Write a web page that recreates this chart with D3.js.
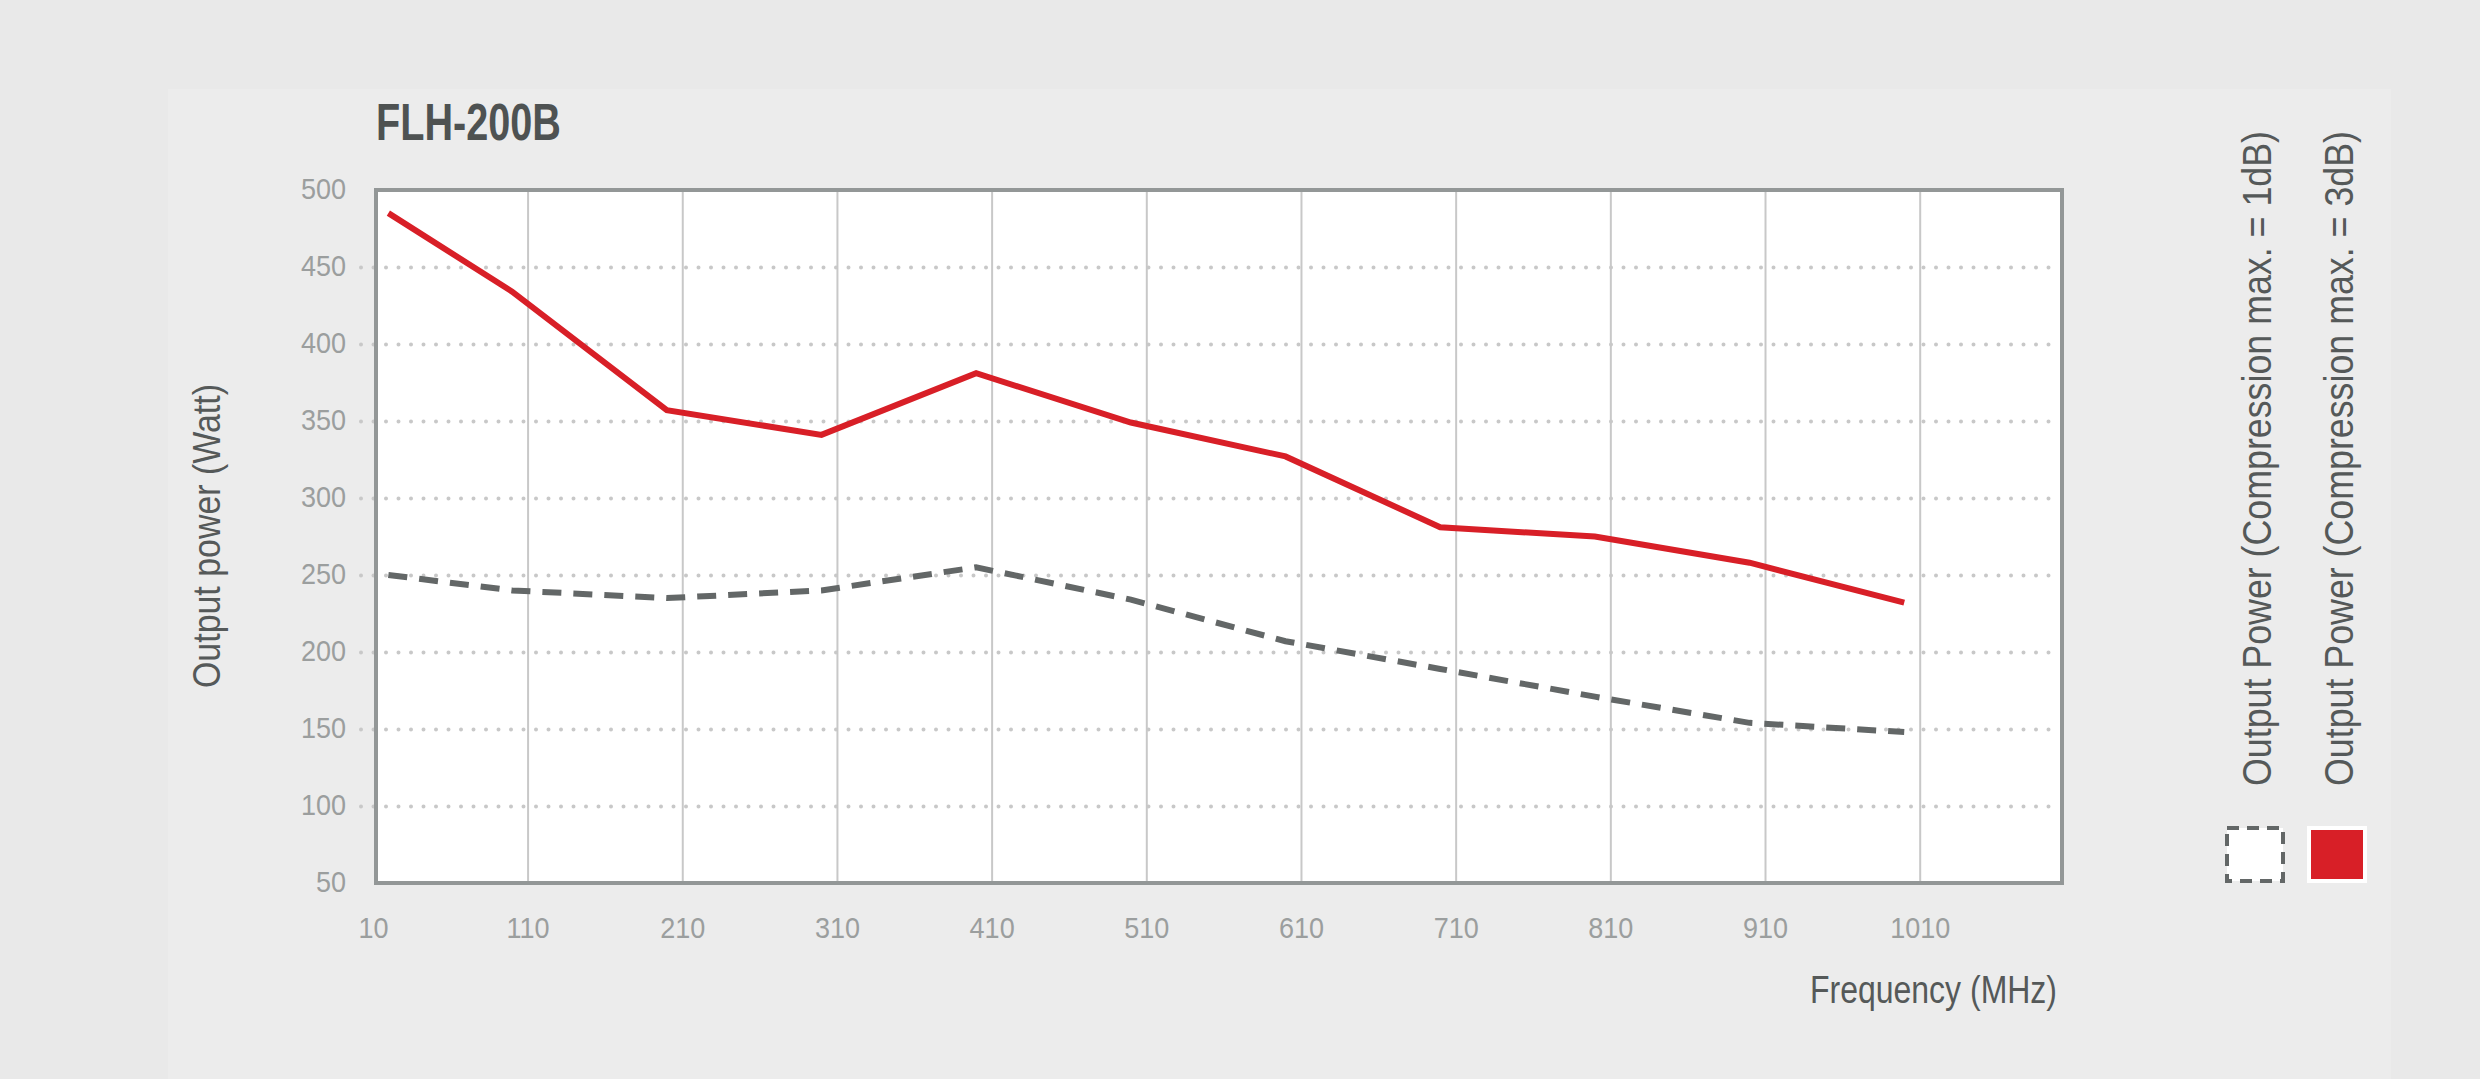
<!DOCTYPE html>
<html>
<head>
<meta charset="utf-8">
<script src="https://cdn.jsdelivr.net/npm/d3@7"></script>
<style>
  html, body { margin: 0; padding: 0; background: #e9e9e9; }
  svg text { font-family: 'Liberation Sans Narrow', 'Liberation Sans', Arial, sans-serif; }
</style>
</head>
<body>
<svg id="chart"></svg>
<script>
// data
const title = 'FLH-200B';
const freqs = [20, 100, 200, 300, 400, 500, 600, 700, 800, 900, 1000];
const power3dB = [485, 434, 357, 341, 381, 349, 327, 281, 275, 258, 232];
const power1dB = [250, 240, 235, 240, 255, 234, 207, 189, 171, 154, 148];
const xTicks = [10, 110, 210, 310, 410, 510, 610, 710, 810, 910, 1010];
const yTicks = [50, 100, 150, 200, 250, 300, 350, 400, 450, 500];
const legendLabels = [
  'Output Power (Compression max. = 1dB)',
  'Output Power (Compression max. = 3dB)'
];

const width = 2480,
  height = 1079;
const plot = { left: 376, right: 2062, top: 190, bottom: 883 };

const red = '#d81f27',
  grey = '#636767',
  frameCol = '#939797',
  gridCol = '#c8c8c8',
  tickCol = '#9b9e9e',
  textCol = '#555959';

const svg = d3
  .select('#chart')
  .attr('width', width)
  .attr('height', height);

// squeeze text to look like the condensed face of the original
function condense(sel, k) {
  sel.each(function() {
    const w = this.getComputedTextLength();
    d3.select(this)
      .attr('textLength', w * k)
      .attr('lengthAdjust', 'spacingAndGlyphs');
  });
}

svg
  .append('rect')
  .attr('width', width)
  .attr('height', height)
  .attr('fill', '#e9e9e9');
svg
  .append('rect')
  .attr('x', 168)
  .attr('y', 89)
  .attr('width', 2391 - 168)
  .attr('height', height - 89)
  .attr('fill', '#ececec');

const x = d3
  .scaleLinear()
  .domain([12, 1102])
  .range([plot.left, plot.right]);
const y = d3
  .scaleLinear()
  .domain([50, 500])
  .range([plot.bottom, plot.top]);

// plot background
svg
  .append('rect')
  .attr('x', plot.left)
  .attr('y', plot.top)
  .attr('width', plot.right - plot.left)
  .attr('height', plot.bottom - plot.top)
  .attr('fill', '#fff');

// vertical grid
const vGrid = svg
  .append('g')
  .attr('transform', `translate(0,${plot.bottom})`)
  .call(
    d3
      .axisBottom(x)
      .tickValues(xTicks.slice(1))
      .tickSize(-(plot.bottom - plot.top))
      .tickFormat('')
  );
vGrid.select('.domain').remove();
vGrid
  .selectAll('line')
  .attr('stroke', gridCol)
  .attr('stroke-width', 2);

// horizontal dotted grid, starts a bit left of the frame
const gx0 = 361;
const hGrid = svg
  .append('g')
  .attr('transform', `translate(${gx0},0)`)
  .call(
    d3
      .axisLeft(y)
      .tickValues(yTicks.slice(1, -1))
      .tickSize(-(2050 - gx0))
      .tickFormat('')
  );
hGrid.select('.domain').remove();
hGrid
  .selectAll('line')
  .attr('stroke', gridCol)
  .attr('stroke-width', 4)
  .attr('stroke-linecap', 'round')
  .attr('stroke-dasharray', '0,12.5');

// frame
svg
  .append('rect')
  .attr('x', plot.left)
  .attr('y', plot.top)
  .attr('width', plot.right - plot.left)
  .attr('height', plot.bottom - plot.top)
  .attr('fill', 'none')
  .attr('stroke', frameCol)
  .attr('stroke-width', 4);

// tick labels
const yAxis = svg
  .append('g')
  .attr('transform', `translate(${plot.left},0)`)
  .call(
    d3
      .axisLeft(y)
      .tickValues(yTicks)
      .tickSize(0)
      .tickPadding(30)
      .tickFormat(d3.format('d'))
  );
yAxis.select('.domain').remove();
yAxis
  .selectAll('text')
  .attr('font-size', 30)
  .attr('font-family', null)
  .attr('fill', tickCol)
  .attr('dy', '0.27em')
  .call(condense, 0.9);

const xAxis = svg
  .append('g')
  .attr('transform', `translate(0,${plot.bottom})`)
  .call(
    d3
      .axisBottom(x)
      .tickValues(xTicks)
      .tickSize(0)
      .tickPadding(34)
      .tickFormat(d3.format('d'))
  );
xAxis.select('.domain').remove();
xAxis
  .selectAll('text')
  .attr('font-size', 30)
  .attr('font-family', null)
  .attr('fill', tickCol)
  .call(condense, 0.9);

// lines
const line = d3
  .line()
  .x((d, i) => x(freqs[i]))
  .y(d => y(d));

svg
  .append('path')
  .datum(power1dB)
  .attr('d', line)
  .attr('fill', 'none')
  .attr('stroke', grey)
  .attr('stroke-width', 6)
  .attr('stroke-dasharray', '19,12');

svg
  .append('path')
  .datum(power3dB)
  .attr('d', line)
  .attr('fill', 'none')
  .attr('stroke', red)
  .attr('stroke-width', 6)
  .attr('stroke-linejoin', 'miter');

// titles
svg
  .append('text')
  .attr('x', plot.left)
  .attr('y', 140)
  .attr('font-size', 52)
  .attr('font-weight', 'bold')
  .attr('fill', '#4e5252')
  .attr('textLength', 185)
  .attr('lengthAdjust', 'spacingAndGlyphs')
  .text(title);

svg
  .append('text')
  .attr('x', 2057)
  .attr('y', 1003)
  .attr('text-anchor', 'end')
  .attr('font-size', 38)
  .attr('fill', textCol)
  .attr('textLength', 247)
  .attr('lengthAdjust', 'spacingAndGlyphs')
  .text('Frequency (MHz)');

svg
  .append('text')
  .attr('transform', 'translate(220,536) rotate(-90)')
  .attr('text-anchor', 'middle')
  .attr('font-size', 38)
  .attr('fill', textCol)
  .attr('textLength', 304)
  .attr('lengthAdjust', 'spacingAndGlyphs')
  .text('Output power (Watt)');

// legend
const legend = svg
  .selectAll('g.legend')
  .data(legendLabels)
  .enter()
  .append('g')
  .attr('class', 'legend')
  .attr('transform', (d, i) => `translate(${2225 + i * 82},0)`);

legend
  .append('text')
  .attr('transform', 'translate(46,786) rotate(-90)')
  .attr('font-size', 40)
  .attr('fill', textCol)
  .attr('textLength', 655)
  .attr('lengthAdjust', 'spacingAndGlyphs')
  .text(d => d);

legend
  .filter((d, i) => i === 0)
  .append('rect')
  .attr('x', 2)
  .attr('y', 828)
  .attr('width', 56)
  .attr('height', 53)
  .attr('fill', '#fff')
  .attr('stroke', grey)
  .attr('stroke-width', 4)
  .attr('stroke-dasharray', '12,8');

legend
  .filter((d, i) => i === 1)
  .append('rect')
  .attr('x', 0)
  .attr('y', 826)
  .attr('width', 60)
  .attr('height', 57)
  .attr('fill', '#fff');

legend
  .filter((d, i) => i === 1)
  .append('rect')
  .attr('x', 4)
  .attr('y', 830)
  .attr('width', 52)
  .attr('height', 49)
  .attr('fill', red);
</script>
</body>
</html>
